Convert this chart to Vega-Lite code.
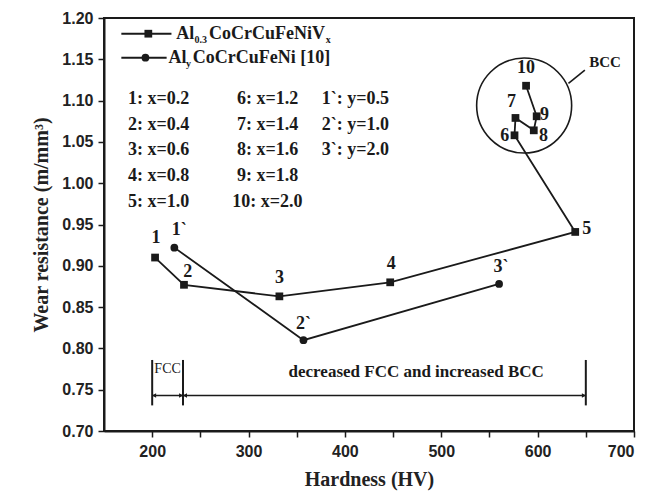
{
  "$schema": "https://vega.github.io/schema/vega-lite/v6.json",
  "width": 530,
  "height": 413,
  "autosize": "none",
  "padding": {"left": 104, "top": 18, "right": 17, "bottom": 67},
  "background": "white",
  "config": {
    "view": {"stroke": "#1a1a1a", "strokeWidth": 2},
    "axis": {
      "domainColor": "#1a1a1a", "domainWidth": 2, "tickColor": "#1a1a1a", "tickWidth": 1.5, "tickSize": 6,
      "grid": false, "labelFont": "Liberation Sans", "labelFontWeight": "bold", "labelFontSize": 16, "labelColor": "#222",
      "titleFont": "Liberation Serif", "titleFontWeight": "bold", "titleFontSize": 20, "titleColor": "#222"
    },
    "text": {"font": "Liberation Serif", "fontWeight": "bold", "color": "#1a1a1a"}
  },
  "datasets": {
    "pts": [
      {"s": "A", "o": 1, "x": 203, "y": 0.910},
      {"s": "A", "o": 2, "x": 233, "y": 0.877},
      {"s": "A", "o": 3, "x": 332, "y": 0.863},
      {"s": "A", "o": 4, "x": 447, "y": 0.880},
      {"s": "A", "o": 5, "x": 639, "y": 0.941},
      {"s": "A", "o": 6, "x": 576, "y": 1.058},
      {"s": "A", "o": 7, "x": 577, "y": 1.079},
      {"s": "A", "o": 8, "x": 596, "y": 1.064},
      {"s": "A", "o": 9, "x": 599, "y": 1.081},
      {"s": "A", "o": 10, "x": 588, "y": 1.118},
      {"s": "B", "o": 1, "x": 223, "y": 0.922},
      {"s": "B", "o": 2, "x": 357, "y": 0.810},
      {"s": "B", "o": 3, "x": 560, "y": 0.878}
    ],
    "plabels": [
      {"t": "1", "x": 204, "y": 0.934},
      {"t": "2", "x": 237, "y": 0.892},
      {"t": "3", "x": 332, "y": 0.885},
      {"t": "4", "x": 448, "y": 0.902},
      {"t": "5", "x": 651, "y": 0.944},
      {"t": "6", "x": 566, "y": 1.057},
      {"t": "7", "x": 573, "y": 1.098},
      {"t": "8", "x": 606, "y": 1.057},
      {"t": "9", "x": 607, "y": 1.083},
      {"t": "10", "x": 588, "y": 1.140},
      {"t": "1`", "x": 228, "y": 0.943},
      {"t": "2`", "x": 357, "y": 0.830},
      {"t": "3`", "x": 562, "y": 0.899}
    ],
    "legtext": [
      {"t": "Al", "x": 225, "y": 1.181},
      {"t": "CoCrCuFeNiV", "x": 259, "y": 1.181},
      {"t": "Al", "x": 217, "y": 1.152},
      {"t": "CoCrCuFeNi [10]", "x": 242, "y": 1.152},
      {"t": "1: x=0.2", "x": 175, "y": 1.102},
      {"t": "2: x=0.4", "x": 175, "y": 1.071},
      {"t": "3: x=0.6", "x": 175, "y": 1.040},
      {"t": "4: x=0.8", "x": 175, "y": 1.009},
      {"t": "5: x=1.0", "x": 175, "y": 0.977},
      {"t": "6: x=1.2", "x": 288, "y": 1.102},
      {"t": "7: x=1.4", "x": 288, "y": 1.071},
      {"t": "8: x=1.6", "x": 288, "y": 1.040},
      {"t": "9: x=1.8", "x": 288, "y": 1.009},
      {"t": "10: x=2.0", "x": 283, "y": 0.977},
      {"t": "1`: y=0.5", "x": 376, "y": 1.102},
      {"t": "2`: y=1.0", "x": 376, "y": 1.071},
      {"t": "3`: y=2.0", "x": 376, "y": 1.040}
    ],
    "subs": [
      {"t": "0.3", "x": 244, "y": 1.173},
      {"t": "x", "x": 380, "y": 1.173},
      {"t": "y", "x": 235, "y": 1.144}
    ],
    "legline": [
      {"x": 168, "x2": 220, "y": 1.181},
      {"x": 168, "x2": 215, "y": 1.152}
    ],
    "legsym": [
      {"s": "A", "x": 196, "y": 1.181},
      {"s": "B", "x": 193, "y": 1.152}
    ],
    "vrules": [
      {"x": 200, "y": 0.731, "y2": 0.786},
      {"x": 232, "y": 0.731, "y2": 0.786},
      {"x": 650, "y": 0.731, "y2": 0.786}
    ],
    "arrowline": [
      {"x": 200, "x2": 650, "y": 0.743}
    ],
    "heads": [
      {"x": 202, "y": 0.743, "d": "L"},
      {"x": 230, "y": 0.743, "d": "R"},
      {"x": 234, "y": 0.743, "d": "L"},
      {"x": 648, "y": 0.743, "d": "R"}
    ],
    "circle": [{"x": 586, "y": 1.094}],
    "bccarrow": [{"x": 632, "y": 1.121, "x2": 649, "y2": 1.137}],
    "bcctext": [{"t": "BCC", "x": 670, "y": 1.147}],
    "fcc": [{"t": "FCC", "x": 216, "y": 0.775}],
    "dec": [{"t": "decreased FCC and increased BCC", "x": 474, "y": 0.772}]
  },
  "encoding": {
    "x": {"field": "x", "type": "quantitative"},
    "y": {"field": "y", "type": "quantitative"}
  },
  "layer": [
    {
      "data": {"name": "pts"},
      "mark": {"type": "line", "color": "#1a1a1a", "strokeWidth": 1.8},
      "encoding": {
        "x": {"field": "x", "type": "quantitative",
          "scale": {"domain": [150, 700], "nice": false, "zero": false},
          "axis": {"title": "Hardness (HV)", "values": [200, 250, 300, 350, 400, 450, 500, 550, 600, 650, 700],
            "labelExpr": "datum.value % 100 === 0 ? datum.label : ''", "labelPadding": 6, "titlePadding": 10}},
        "y": {"field": "y", "type": "quantitative",
          "scale": {"domain": [0.7, 1.2], "nice": false, "zero": false},
          "axis": {"title": "Wear resistance (m/mm³)",
            "values": [0.7, 0.725, 0.75, 0.775, 0.8, 0.825, 0.85, 0.875, 0.9, 0.925, 0.95, 0.975, 1.0, 1.025, 1.05, 1.075, 1.1, 1.125, 1.15, 1.175, 1.2],
            "labelExpr": "round(datum.value * 1000) % 50 === 0 ? format(datum.value, '.2f') : ''",
            "labelPadding": 5, "titlePadding": 10}},
        "detail": {"field": "s"},
        "order": {"field": "o", "type": "quantitative"}
      }
    },
    {
      "data": {"name": "pts"},
      "mark": {"type": "point", "filled": true, "color": "#1a1a1a", "opacity": 1, "size": 60},
      "encoding": {
        "shape": {"field": "s", "type": "nominal", "scale": {"domain": ["A", "B"], "range": ["square", "circle"]}, "legend": null}
      }
    },
    {
      "data": {"name": "legline"},
      "mark": {"type": "rule", "color": "#1a1a1a", "strokeWidth": 2},
      "encoding": {"x2": {"field": "x2"}}
    },
    {
      "data": {"name": "legsym"},
      "mark": {"type": "point", "filled": true, "color": "#1a1a1a", "opacity": 1, "size": 60},
      "encoding": {
        "shape": {"field": "s", "type": "nominal", "scale": {"domain": ["A", "B"], "range": ["square", "circle"]}, "legend": null}
      }
    },
    {
      "data": {"name": "plabels"},
      "mark": {"type": "text", "fontSize": 18, "align": "center", "baseline": "middle"},
      "encoding": {"text": {"field": "t"}}
    },
    {
      "data": {"name": "legtext"},
      "mark": {"type": "text", "fontSize": 18, "align": "left", "baseline": "middle"},
      "encoding": {"text": {"field": "t"}}
    },
    {
      "data": {"name": "subs"},
      "mark": {"type": "text", "fontSize": 10, "align": "left", "baseline": "middle"},
      "encoding": {"text": {"field": "t"}}
    },
    {
      "data": {"name": "circle"},
      "mark": {"type": "point", "shape": "circle", "filled": false, "size": 9025, "color": "#1a1a1a", "strokeWidth": 1.6, "opacity": 1},
      "encoding": {}
    },
    {
      "data": {"name": "bccarrow"},
      "mark": {"type": "rule", "color": "#1a1a1a", "strokeWidth": 1.6},
      "encoding": {"x2": {"field": "x2"}, "y2": {"field": "y2"}}
    },
    {
      "data": {"name": "bcctext"},
      "mark": {"type": "text", "fontSize": 15, "align": "center", "baseline": "middle"},
      "encoding": {"text": {"field": "t"}}
    },
    {
      "data": {"name": "vrules"},
      "mark": {"type": "rule", "color": "#1a1a1a", "strokeWidth": 2},
      "encoding": {"y2": {"field": "y2"}}
    },
    {
      "data": {"name": "arrowline"},
      "mark": {"type": "rule", "color": "#1a1a1a", "strokeWidth": 1.5},
      "encoding": {"x2": {"field": "x2"}}
    },
    {
      "data": {"name": "heads"},
      "mark": {"type": "point", "filled": true, "color": "#1a1a1a", "opacity": 1, "size": 22},
      "encoding": {
        "shape": {"field": "d", "type": "nominal", "scale": {"domain": ["L", "R"], "range": ["triangle-left", "triangle-right"]}, "legend": null}
      }
    },
    {
      "data": {"name": "fcc"},
      "mark": {"type": "text", "fontSize": 14, "fontWeight": "normal", "align": "center", "baseline": "middle"},
      "encoding": {"text": {"field": "t"}}
    },
    {
      "data": {"name": "dec"},
      "mark": {"type": "text", "fontSize": 17, "align": "center", "baseline": "middle"},
      "encoding": {"text": {"field": "t"}}
    }
  ],
  "resolve": {"scale": {"shape": "independent"}}
}
